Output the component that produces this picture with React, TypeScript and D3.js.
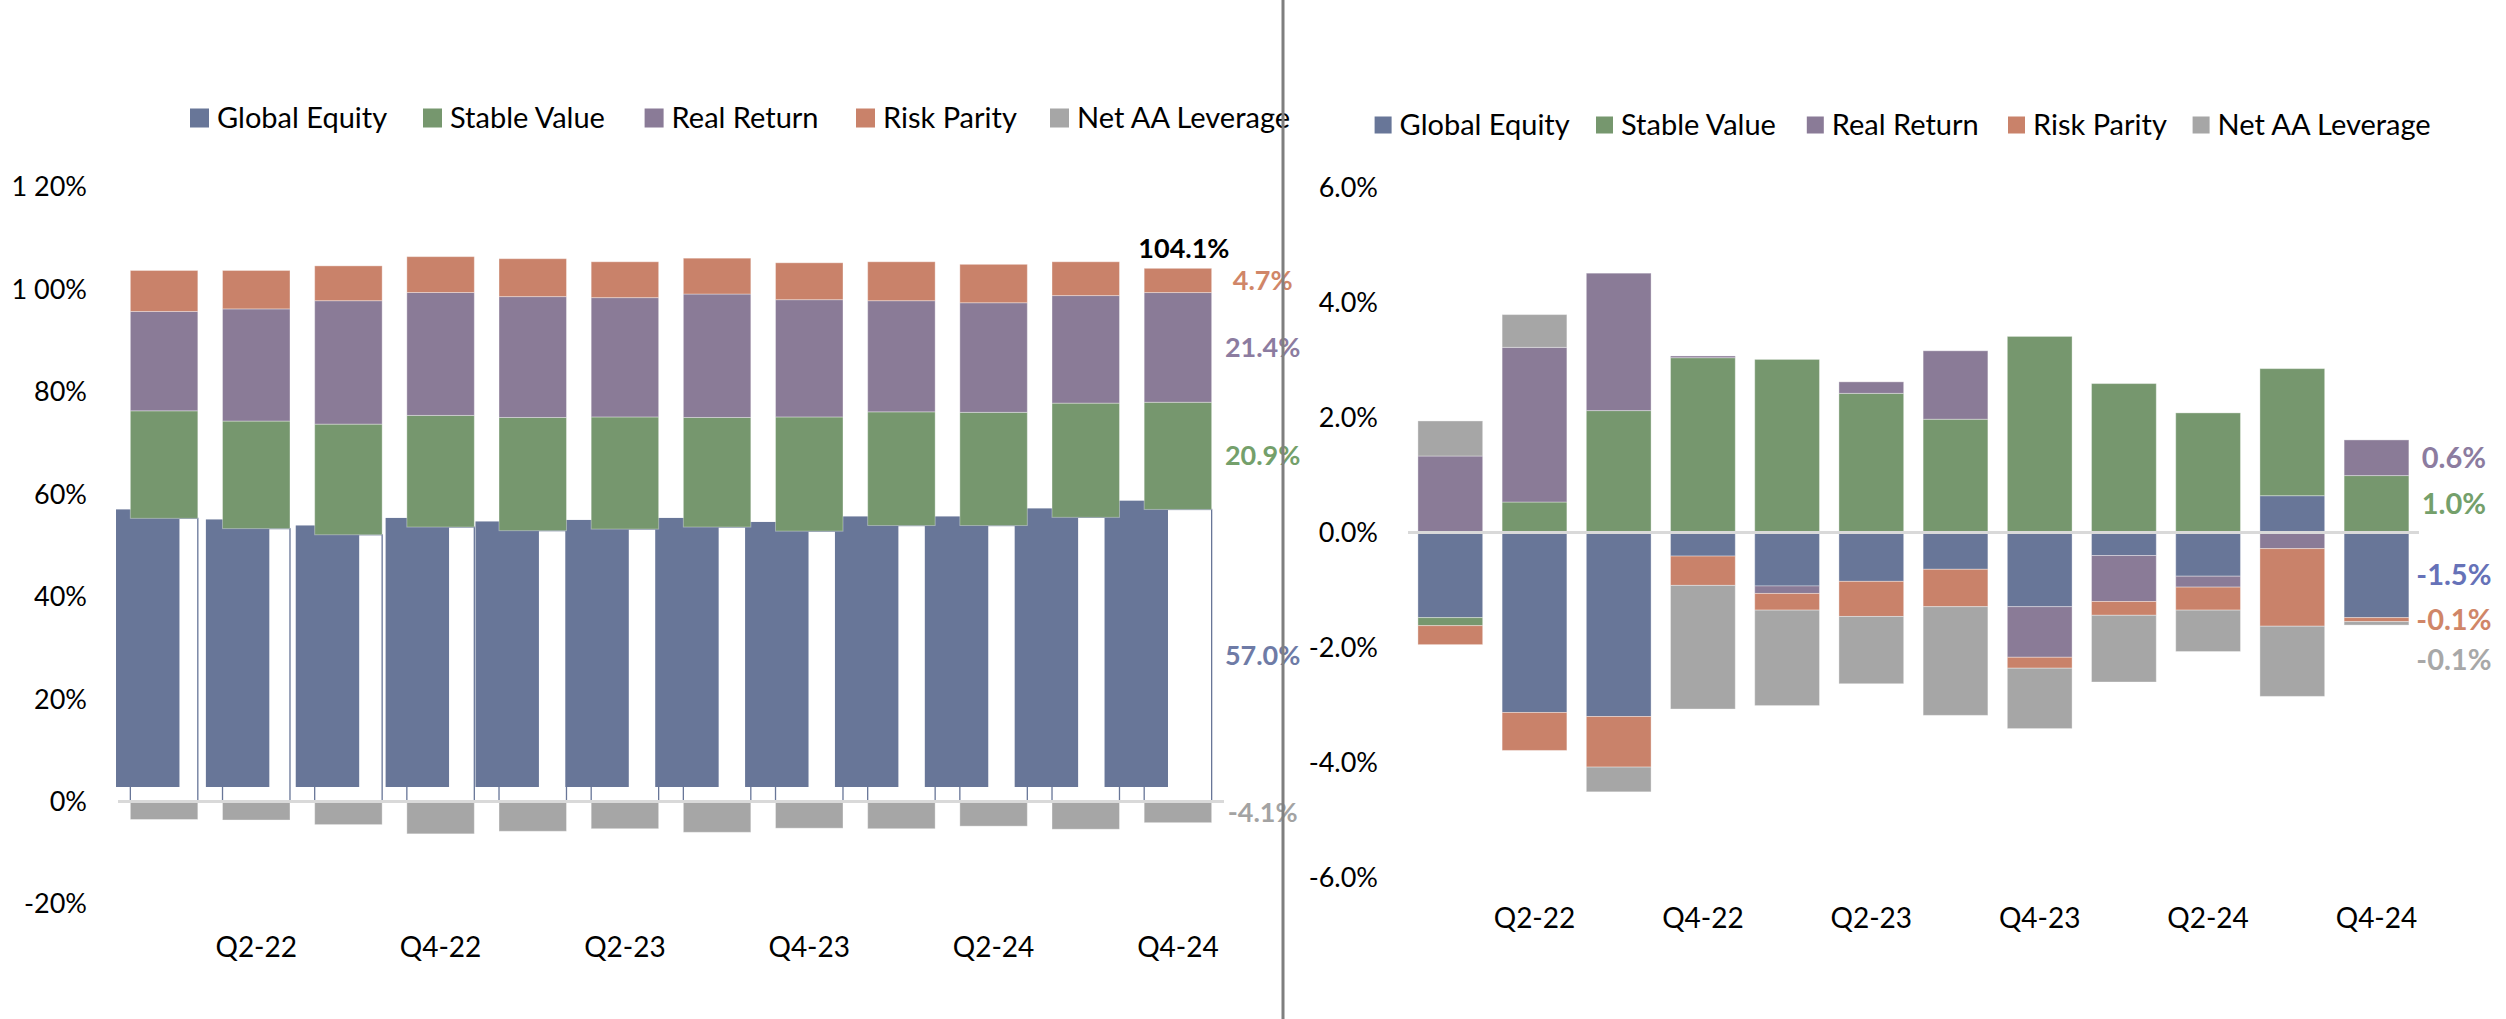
import * as d3 from "d3";

const categories = ["Q1-22", "Q2-22", "Q3-22", "Q4-22", "Q1-23", "Q2-23", "Q3-23", "Q4-23", "Q1-24", "Q2-24", "Q3-24", "Q4-24"];
const seriesNames = ["Global Equity", "Stable Value", "Real Return", "Risk Parity", "Net AA Leverage"];
const seriesColors = ["#687698", "#76976E", "#8A7B97", "#C9826A", "#A6A6A6"];
const labelColors = ["#6E7BA6", "#74A06B", "#8C7CA0", "#D08668", "#A3A3A3"];
const rightLabelColors = ["#6672B8", "#74A06B", "#8C7CA0", "#D08668", "#A8A8A8"];

// left chart: allocation weights (%)
const allocGlobalEquity = [55.3, 53.3, 52.1, 53.6, 52.9, 53.2, 53.6, 52.8, 53.9, 53.9, 55.5, 57.04];
const allocStableValue = [21.0, 21.0, 21.6, 21.8, 22.1, 21.9, 21.4, 22.3, 22.2, 22.1, 22.3, 20.93];
const allocRealReturn = [19.4, 21.9, 24.1, 24.0, 23.6, 23.3, 24.1, 22.9, 21.7, 21.4, 21.0, 21.42];
const allocRiskParity = [8.0, 7.5, 6.8, 7.0, 7.4, 7.0, 7.0, 7.2, 7.6, 7.5, 6.6, 4.73];
const allocNetLeverage = [-3.5, -3.6, -4.5, -6.3, -5.8, -5.3, -6.0, -5.2, -5.3, -4.8, -5.4, -4.12];

// right chart: contributions (%)
const contGlobalEquity = [-1.48, -3.13, -3.2, -0.41, -0.93, -0.85, -0.64, -1.29, -0.4, -0.76, 0.64, -1.48];
const contStableValue = [-0.14, 0.53, 2.12, 3.04, 3.01, 2.42, 1.97, 3.41, 2.59, 2.08, 2.21, 0.99];
const contRealReturn = [1.33, 2.69, 2.39, 0.03, -0.13, 0.2, 1.19, -0.88, -0.8, -0.19, -0.28, 0.62];
const contRiskParity = [-0.33, -0.66, -0.88, -0.51, -0.29, -0.61, -0.65, -0.19, -0.24, -0.4, -1.35, -0.07];
const contNetLeverage = [0.61, 0.57, -0.43, -2.15, -1.66, -1.17, -1.89, -1.05, -1.16, -0.72, -1.22, -0.06];

const leftTicks = [-20, 0, 20, 40, 60, 80, 100, 120];
const leftTickLabels = ["-20%", "0%", "20%", "40%", "60%", "80%", "1 00%", "1 20%"];
const rightTicks = [-6, -4, -2, 0, 2, 4, 6];
const rightTickLabels = ["-6.0%", "-4.0%", "-2.0%", "0.0%", "2.0%", "4.0%", "6.0%"];

const W = 2506;
const H = 1019;
const FONT = "Lato, 'Liberation Sans', sans-serif";

type Row = { [k: string]: number | string };

function toRows(arrs: number[][]): Row[] {
  return categories.map((c, i) => {
    const r: Row = { cat: c };
    seriesNames.forEach((s, j) => (r[s] = arrs[j][i]));
    return r;
  });
}

const stacker = d3
  .stack<Row>()
  .keys(seriesNames)
  .value((d, k) => d[k] as number)
  .offset(d3.stackOffsetDiverging);

const fmt = (v: number) => v.toFixed(1) + "%";

function Legend({ xs, y, size }: { xs: number[]; y: number; size: number }) {
  return (
    <g fontFamily={FONT} fontSize={29} fill="#000">
      {seriesNames.map((s, i) => (
        <g key={s}>
          <rect x={xs[i]} y={y - size / 2} width={size} height={size} fill={seriesColors[i]} />
          <text x={xs[i] + size + 8} y={y} dy="0.35em">{s}</text>
        </g>
      ))}
    </g>
  );
}

function LeftChart() {
  const rows = toRows([allocGlobalEquity, allocStableValue, allocRealReturn, allocRiskParity, allocNetLeverage]);
  const stacked = stacker(rows);
  const x = d3.scaleBand().domain(categories).range([118, 1224]).paddingInner(0.268).paddingOuter(0.134);
  const y = d3.scaleLinear().domain([-20, 120]).range([904, 187]);
  // the equity fill sits on a slightly shifted secondary plot area
  const xB = d3.scaleBand().domain(categories).range([102.8, 1181.2]).paddingInner(0.294).paddingOuter(0.147);
  const yB = d3.scaleLinear().domain([-20, 120]).range([887.4, 184.6]);
  const last = categories.length - 1;
  const lastCat = categories[last];
  const labelX = (x(lastCat) as number) + x.bandwidth() + 51;
  const total = seriesNames.reduce((acc, s) => acc + Math.max(0, rows[last][s] as number), 0);

  return (
    <g>
      {/* equity outline */}
      {stacked[0].map((d, i) => (
        <rect
          key={"o" + i}
          x={x(categories[i])}
          y={y(Math.max(d[0], d[1]))}
          width={x.bandwidth()}
          height={Math.abs(y(d[0]) - y(d[1]))}
          fill="none"
          stroke={seriesColors[0]}
          strokeWidth={1.3}
        />
      ))}
      {stacked[0].map((d, i) => (
        <rect
          key={"f" + i}
          x={xB(categories[i])}
          y={yB(Math.max(d[0], d[1]))}
          width={xB.bandwidth()}
          height={Math.abs(yB(d[0]) - yB(d[1]))}
          fill={seriesColors[0]}
        />
      ))}
      {stacked.slice(1).map((ser, j) => (
        <g key={ser.key} fill={seriesColors[j + 1]}>
          {ser.map((d, i) => (
            <rect
              key={i}
              x={x(categories[i])}
              y={y(Math.max(d[0], d[1]))}
              width={x.bandwidth()}
              height={Math.abs(y(d[0]) - y(d[1]))}
              stroke="#fff"
              strokeOpacity={0.35}
              strokeWidth={1}
            />
          ))}
        </g>
      ))}
      <line x1={118} x2={1224} y1={y(0)} y2={y(0)} stroke="#D9D9D9" strokeWidth={3} />
      <g fontFamily={FONT} fontSize={27} fill="#000" textAnchor="end">
        {leftTicks.map((t, i) => (
          <text key={t} x={87} y={y(t)} dy="0.35em">{leftTickLabels[i]}</text>
        ))}
      </g>
      <g fontFamily={FONT} fontSize={28} fill="#000" textAnchor="middle">
        {categories.map((c, i) =>
          i % 2 === 1 ? (
            <text key={c} x={(x(c) as number) + x.bandwidth() / 2} y={947} dy="0.35em">{c}</text>
          ) : null
        )}
      </g>
      <g fontFamily={FONT} fontSize={27} fontWeight="bold" textAnchor="middle">
        {stacked.map((ser, j) => {
          const d = ser[last];
          return (
            <text key={ser.key} x={labelX} y={y((d[0] + d[1]) / 2)} dy="0.35em" fill={labelColors[j]}>
              {fmt(rows[last][ser.key] as number)}
            </text>
          );
        })}
        <text x={(x(lastCat) as number) + x.bandwidth() / 2 + 6} y={y(total) - 20} dy="0.35em" fill="#000">
          {fmt(total)}
        </text>
      </g>
    </g>
  );
}

function RightChart() {
  const rows = toRows([contGlobalEquity, contStableValue, contRealReturn, contRiskParity, contNetLeverage]);
  const stacked = stacker(rows);
  const x = d3.scaleBand().domain(categories).range([1408.2, 2418.6]).paddingInner(0.231).paddingOuter(0.1155);
  const y = d3.scaleLinear().domain([-6, 6]).range([877.5, 187.5]);
  const last = categories.length - 1;
  const lastCat = categories[last];
  const labelX = (x(lastCat) as number) + x.bandwidth() + 45;

  // label positions: segment centres, pushed apart when they collide
  const labels = stacked.map((ser, j) => {
    const d = ser[last];
    return { j, v: rows[last][ser.key] as number, yy: y((d[0] + d[1]) / 2) };
  });
  const pos = labels.filter((l) => l.v >= 0).sort((a, b) => b.yy - a.yy);
  for (let k = 1; k < pos.length; k++) if (pos[k - 1].yy - pos[k].yy < 40) pos[k].yy = pos[k - 1].yy - 40;
  const neg = labels.filter((l) => l.v < 0).sort((a, b) => a.yy - b.yy);
  for (let k = 1; k < neg.length; k++) if (neg[k].yy - neg[k - 1].yy < 40) neg[k].yy = neg[k - 1].yy + 40;

  return (
    <g>
      {stacked.map((ser, j) => (
        <g key={ser.key} fill={seriesColors[j]}>
          {ser.map((d, i) => (
            <rect
              key={i}
              x={x(categories[i])}
              y={y(Math.max(d[0], d[1]))}
              width={x.bandwidth()}
              height={Math.abs(y(d[0]) - y(d[1]))}
              stroke="#fff"
              strokeOpacity={0.35}
              strokeWidth={1}
            />
          ))}
        </g>
      ))}
      <line x1={1408} x2={2419} y1={y(0)} y2={y(0)} stroke="#D9D9D9" strokeWidth={3} />
      <g fontFamily={FONT} fontSize={27} fill="#000" textAnchor="end">
        {rightTicks.map((t, i) => (
          <text key={t} x={1378} y={y(t)} dy="0.35em">{rightTickLabels[i]}</text>
        ))}
      </g>
      <g fontFamily={FONT} fontSize={28} fill="#000" textAnchor="middle">
        {categories.map((c, i) =>
          i % 2 === 1 ? (
            <text key={c} x={(x(c) as number) + x.bandwidth() / 2} y={918} dy="0.35em">{c}</text>
          ) : null
        )}
      </g>
      <g fontFamily={FONT} fontSize={29} fontWeight="bold" textAnchor="middle">
        {labels.map((l) => (
          <text key={l.j} x={labelX} y={l.yy} dy="0.35em" fill={rightLabelColors[l.j]}>
            {fmt(l.v)}
          </text>
        ))}
      </g>
    </g>
  );
}

export default function App() {
  return (
    <svg
      width={W}
      height={H}
      viewBox={`0 0 ${W} ${H}`}
      style={{ position: "absolute", left: 0, top: 0, display: "block", background: "#fff" }}
    >
      <rect width={W} height={H} fill="#fff" />
      <Legend xs={[190, 423, 644.6, 856, 1050]} y={118} size={19} />
      <Legend xs={[1374.6, 1596, 1806.8, 2008, 2192.6]} y={125} size={17} />
      <LeftChart />
      <RightChart />
      <line x1={1283} x2={1283} y1={0} y2={H} stroke="#7F7F7F" strokeWidth={3} />
    </svg>
  );
}
